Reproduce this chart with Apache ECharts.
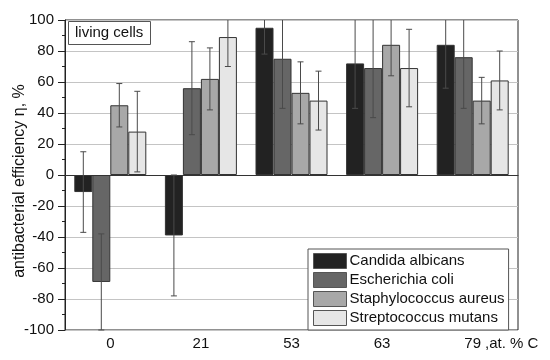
<!DOCTYPE html>
<html><head><meta charset="utf-8">
<script src="https://cdn.jsdelivr.net/npm/echarts@6/dist/echarts.min.js"></script>
<style>html,body{margin:0;padding:0;background:#fff}#c{width:550px;height:360px}</style>
</head><body><div id="c"></div>
<script>
const categories = ['0', '21', '53', '63', '79'];
const seriesNames = ['Candida albicans', 'Escherichia coli', 'Staphylococcus aureus', 'Streptococcus mutans'];
const candida = [-11, -39, 95, 72, 84];
const ecoli = [-69, 56, 75, 69, 76];
const staph = [45, 62, 53, 84, 48];
const strep = [28, 89, 48, 69, 61];
const candidaErr = [26, 39, 17, 29, 28];
const ecoliErr = [31, 30, 32, 32, 33];
const staphErr = [14, 20, 20, 20, 15];
const strepErr = [26, 19, 19, 25, 19];
const yTicks = [-100, 100, 20];

const values = [candida, ecoli, staph, strep];
const errs = [candidaErr, ecoliErr, staphErr, strepErr];
const colors = ['#222222', '#666666', '#a8a8a8', '#e6e6e6'];
const BW = 18;
const FONT = 'Liberation Sans, Arial, sans-serif';

const series = [];
values.forEach((v, i) => {
  series.push({
    name: seriesNames[i], type: 'bar', data: v, barWidth: BW, barGap: '0%',
    itemStyle: { color: colors[i], borderColor: '#333', borderWidth: 1 },
    z: 2,
    markLine: i === 0 ? { silent: true, symbol: 'none', label: { show: false },
      lineStyle: { color: '#333', width: 1, type: 'solid' }, data: [{ yAxis: 0 }] } : undefined
  });
});
values.forEach((v, i) => {
  series.push({
    type: 'custom', name: seriesNames[i] + ' err', z: 5, silent: true,
    data: v.map((val, j) => [j, val, errs[i][j]]),
    renderItem: function (params, api) {
      const j = api.value(0), val = api.value(1), e = api.value(2);
      const lo = Math.max(yTicks[0], val - e), hi = Math.min(yTicks[1], val + e);
      const off = (i - 1.5) * BW;
      const pHi = api.coord([j, hi]), pLo = api.coord([j, lo]);
      const x = pHi[0] + off;
      const st = { stroke: '#4a4a4a', lineWidth: 1 };
      const children = [{ type: 'line', shape: { x1: x, y1: pHi[1], x2: x, y2: pLo[1] }, style: st }];
      if (val + e <= yTicks[1]) children.push({ type: 'line', shape: { x1: x - 3, y1: pHi[1], x2: x + 3, y2: pHi[1] }, style: st });
      if (val - e >= yTicks[0]) children.push({ type: 'line', shape: { x1: x - 3, y1: pLo[1], x2: x + 3, y2: pLo[1] }, style: st });
      return { type: 'group', children: children };
    }
  });
});

const chart = echarts.init(document.getElementById('c'), null, { renderer: 'canvas' });
chart.setOption({
  animation: false,
  backgroundColor: '#fff',
  textStyle: { fontFamily: FONT },
  grid: { left: 65, right: 32, top: 20, bottom: 30, show: true, borderColor: '#222', borderWidth: 1, containLabel: false },
  legend: {
    data: seriesNames, orient: 'vertical', left: 308, top: 249,
    itemWidth: 33, itemHeight: 15, itemGap: 3, icon: 'rect',
    padding: [4, 4, 4, 5], borderColor: '#555', borderWidth: 1, backgroundColor: '#fff',
    textStyle: { fontSize: 15, color: '#111', padding: [0, 0, 0, -2] },
    itemStyle: { borderColor: '#555', borderWidth: 1 }
  },
  xAxis: {
    type: 'category', data: categories,
    axisLine: { lineStyle: { color: '#222', width: 1 } },
    axisTick: { show: false },
    axisLabel: { fontSize: 15, color: '#111', margin: 6 },
    splitLine: { show: false }
  },
  yAxis: {
    type: 'value', min: yTicks[0], max: yTicks[1], interval: yTicks[2],
    axisLine: { show: true, lineStyle: { color: '#222', width: 1 } },
    axisTick: { show: true, length: 7, lineStyle: { color: '#222' } },
    minorTick: { show: true, splitNumber: 2, length: 3, lineStyle: { color: '#222' } },
    axisLabel: { fontSize: 15, color: '#111', margin: 11 },
    splitLine: { show: true, lineStyle: { color: '#c4c4c4', width: 1 } }
  },
  graphic: [
    { type: 'text', x: 20, y: 181, rotation: Math.PI / 2, style: { text: 'antibacterial efficiency η, %', fontSize: 16, fill: '#111', fontFamily: FONT, align: 'center', verticalAlign: 'middle' }, z: 11 },
    { type: 'rect', left: 68, top: 21, shape: { width: 82, height: 23 }, style: { fill: '#fff', stroke: '#555', lineWidth: 1 }, z: 10 },
    { type: 'text', left: 75, top: 25, style: { text: 'living cells', fontSize: 15, fill: '#111', fontFamily: FONT }, z: 11 },
    { type: 'text', left: 485, top: 336, style: { text: ',at. % C', fontSize: 15, fill: '#111', fontFamily: FONT }, z: 11 }
  ],
  series: series
});
</script></body></html>
